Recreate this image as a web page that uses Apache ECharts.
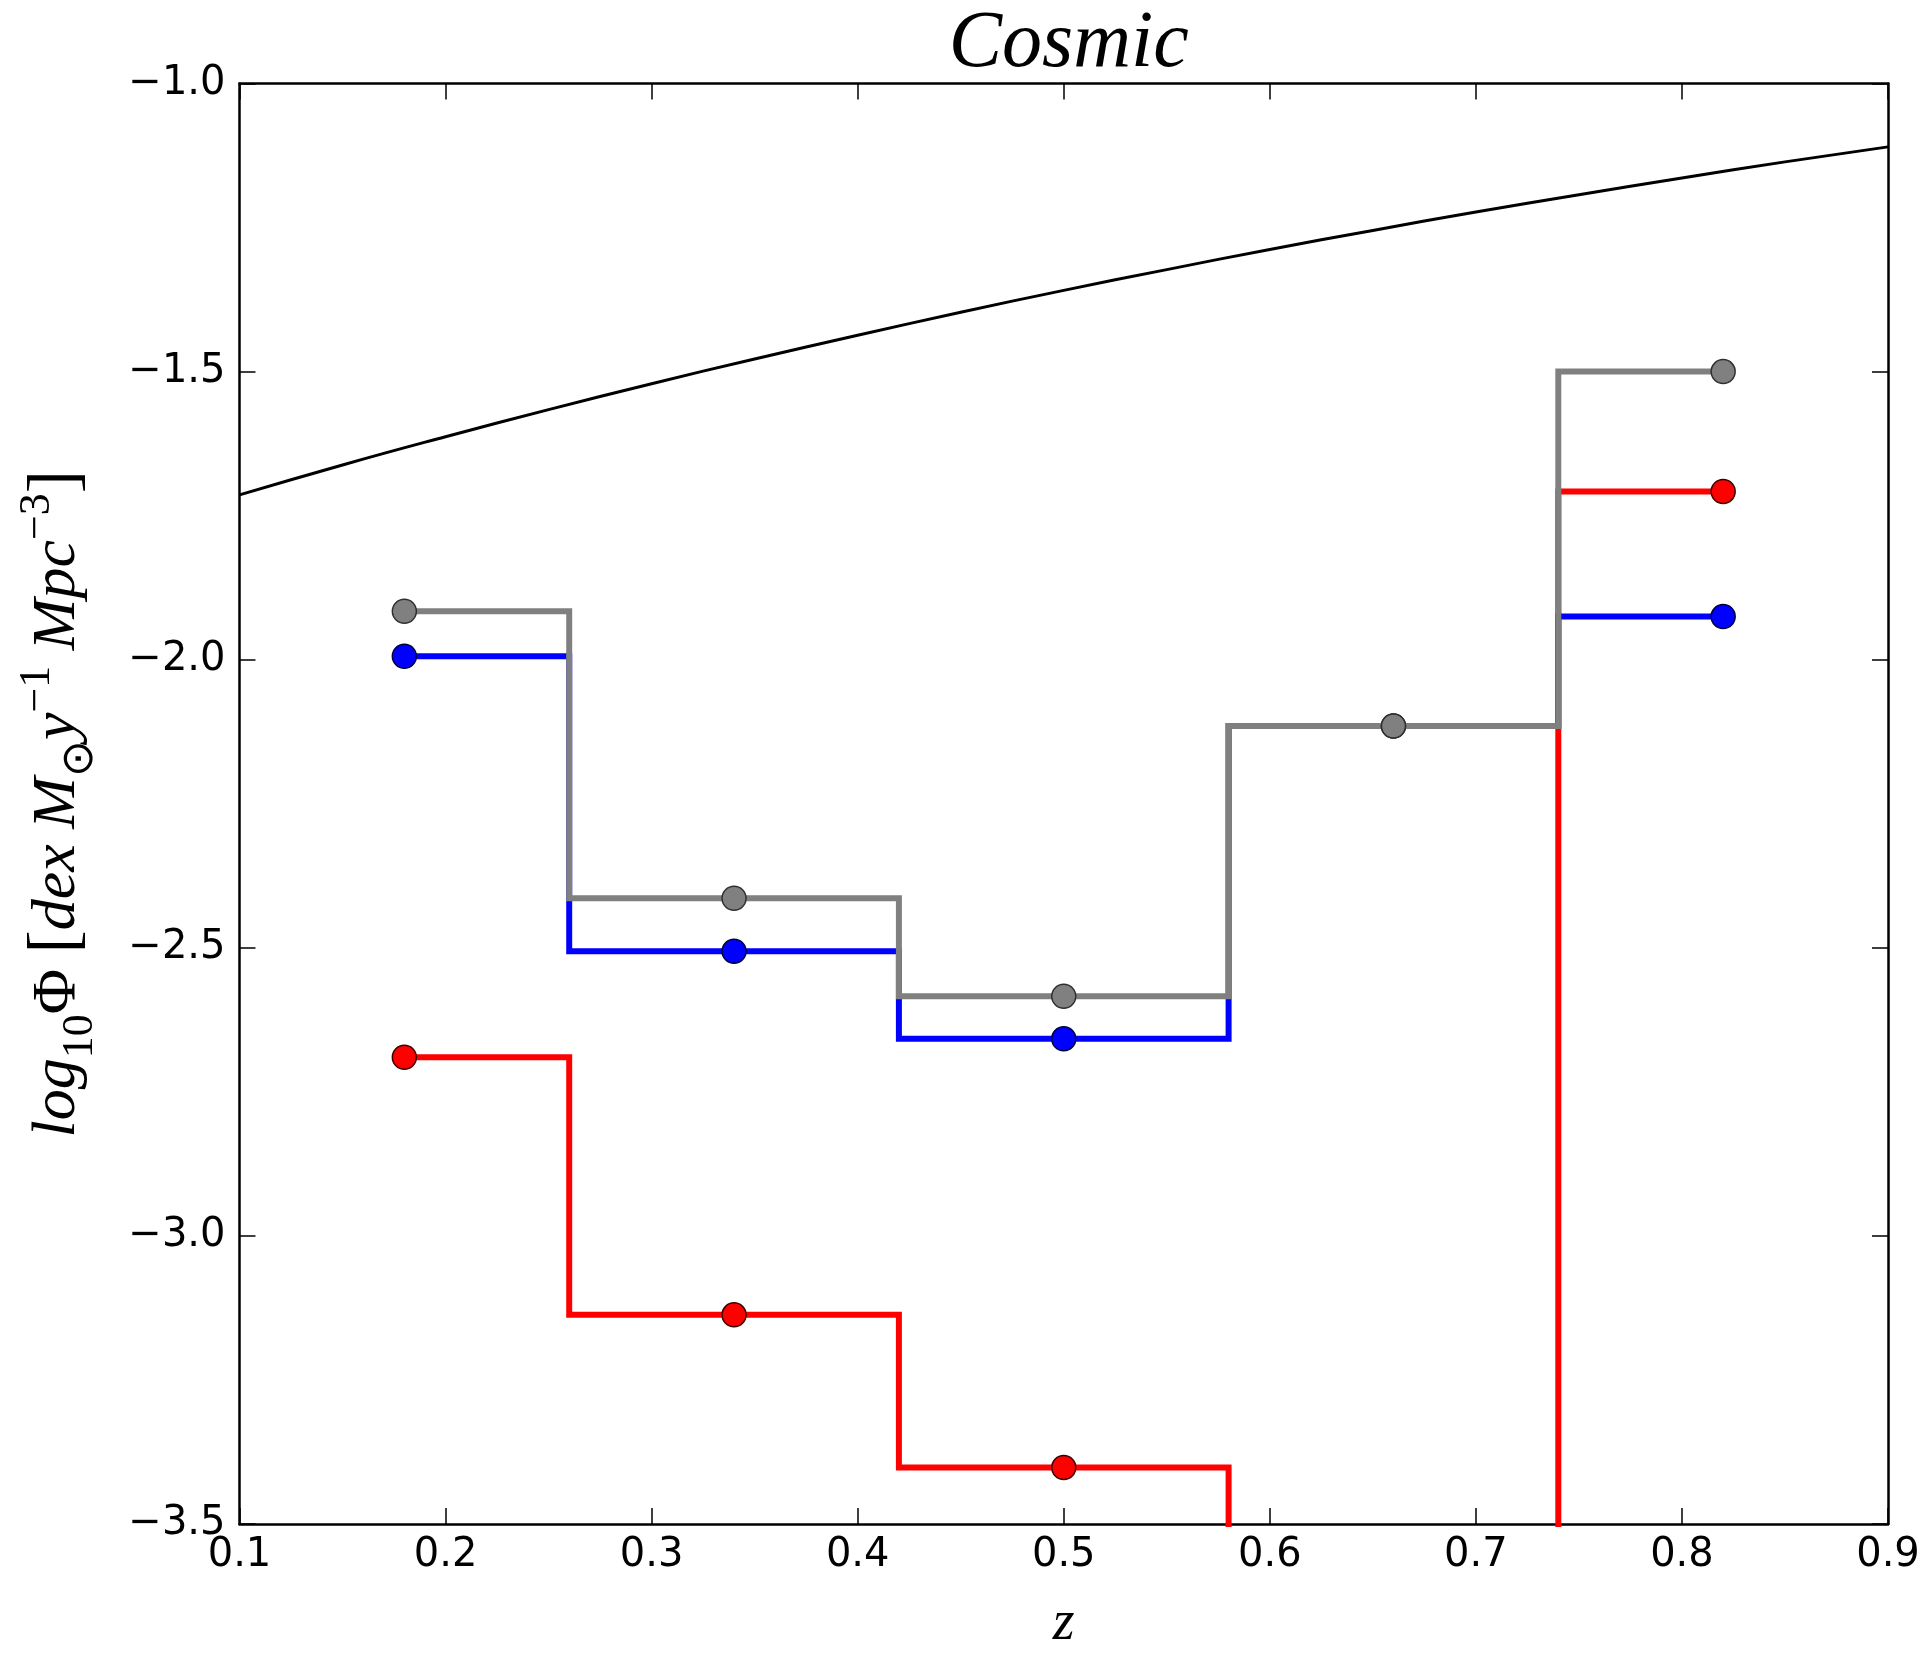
<!DOCTYPE html>
<html><head><meta charset="utf-8">
<script src="https://cdn.jsdelivr.net/npm/echarts@6/dist/echarts.min.js"></script>
<style>html,body{margin:0;padding:0;background:#fff}#c{width:1926px;height:1657px}</style>
</head><body><div id="c"></div>
<script>
// ---- data ----
const xTicks = [0.1, 0.2, 0.3, 0.4, 0.5, 0.6, 0.7, 0.8, 0.9];
const yTicks = [-3.5, -3.0, -2.5, -2.0, -1.5, -1.0];
const binCenters = [0.18, 0.34, 0.50, 0.66, 0.82];
const redValues  = [-2.690, -3.137, -3.402, -10.0, -1.708];
const blueValues = [-1.994, -2.506, -2.658, -2.115, -1.925];
const grayValues = [-1.916, -2.414, -2.584, -2.115, -1.500];
const cosmicZ = [0.10, 0.15, 0.20, 0.25, 0.30, 0.35, 0.40, 0.45, 0.50, 0.55, 0.60, 0.65, 0.70, 0.75, 0.80, 0.85, 0.90];
const cosmicValues = [-1.714, -1.662, -1.613, -1.566, -1.521, -1.478, -1.437, -1.397, -1.359, -1.323, -1.288, -1.255, -1.223, -1.193, -1.164, -1.136, -1.110];

const pairs = (xs, ys) => xs.map((x, i) => [x, ys[i]]);
const fmt = v => v.toFixed(1).replace('-', '\u2212');

const tickFont = { fontFamily: 'DejaVu Sans', fontSize: 40, color: '#000' };
const lineAxis = { show: true, onZero: false, lineStyle: { color: '#000', width: 2.5 } };
const tick = { show: true, inside: true, length: 16, lineStyle: { color: '#000', width: 1.5 } };

function stepSeries(values, color, edge) {
  return {
    type: 'line', step: 'middle', data: pairs(binCenters, values),
    clip: true, showSymbol: true, symbol: 'circle', symbolSize: 24,
    lineStyle: { color: color, width: 6, join: 'miter', cap: 'butt' },
    itemStyle: { color: color, borderColor: edge, borderWidth: 1.5 },
    emphasis: { disabled: true }, silent: true
  };
}

const chart = echarts.init(document.getElementById('c'), null, { renderer: 'canvas' });
chart.setOption({
  animation: false,
  backgroundColor: '#fff',
  title: {
    text: 'Cosmic', left: 1063.75, top: 0, textAlign: 'center',
    textStyle: { fontFamily: 'Liberation Serif', fontStyle: 'italic', fontWeight: 'normal', fontSize: 80, color: '#000' }
  },
  grid: { left: 239.5, right: 38, top: 83.5, bottom: 121, containLabel: false },
  xAxis: [
    {
      type: 'value', position: 'bottom', min: xTicks[0], max: xTicks[xTicks.length - 1], interval: 0.1,
      axisLine: lineAxis, axisTick: tick, splitLine: { show: false },
      axisLabel: Object.assign({ margin: 12, formatter: v => v.toFixed(1) }, tickFont),
      name: 'z', nameLocation: 'middle', nameGap: 100,
      nameTextStyle: { fontFamily: 'Liberation Serif', fontStyle: 'italic', fontSize: 56, color: '#000', verticalAlign: 'middle' }
    },
    {
      type: 'value', position: 'top', min: xTicks[0], max: xTicks[xTicks.length - 1], interval: 0.1,
      axisLine: lineAxis, axisTick: tick, splitLine: { show: false }, axisLabel: { show: false }
    }
  ],
  yAxis: [
    {
      type: 'value', position: 'left', min: yTicks[0], max: yTicks[yTicks.length - 1], interval: 0.5,
      axisLine: lineAxis, axisTick: tick, splitLine: { show: false },
      axisLabel: Object.assign({ margin: 14, formatter: fmt }, tickFont),
      name: '{m|log}{sub|10}{u|\u03A6 }{br|[}{m|dex M}{sub|\u2299}{m|y}{sup|\u22121}{m| Mpc}{sup|\u22123}{br|]}',
      nameLocation: 'middle', nameRotate: 90, nameGap: 182,
      nameTextStyle: {
        verticalAlign: 'middle', color: '#000',
        rich: {
          m: { fontFamily: 'Liberation Serif', fontStyle: 'italic', fontSize: 62, lineHeight: 70, color: '#000' },
          u: { fontFamily: 'Liberation Serif', fontSize: 62, lineHeight: 70, color: '#000' },
          br: { fontFamily: 'Liberation Serif', fontSize: 70, lineHeight: 70, color: '#000' },
          sub: { fontFamily: 'Liberation Serif', fontSize: 44, lineHeight: 44, padding: [46, 0, 0, 0], color: '#000' },
          sup: { fontFamily: 'Liberation Serif', fontSize: 44, lineHeight: 44, padding: [0, 0, 40, 0], color: '#000' }
        }
      }
    },
    {
      type: 'value', position: 'right', min: yTicks[0], max: yTicks[yTicks.length - 1], interval: 0.5,
      axisLine: lineAxis, axisTick: tick, splitLine: { show: false }, axisLabel: { show: false }
    }
  ],
  series: [
    {
      type: 'line', data: pairs(cosmicZ, cosmicValues), smooth: true, showSymbol: false, clip: true,
      lineStyle: { color: '#000', width: 3 }, emphasis: { disabled: true }, silent: true
    },
    stepSeries(redValues, '#ff0000', '#3a0000'),
    stepSeries(blueValues, '#0000ff', '#00003a'),
    stepSeries(grayValues, '#808080', '#303030')
  ]
});
</script></body></html>
